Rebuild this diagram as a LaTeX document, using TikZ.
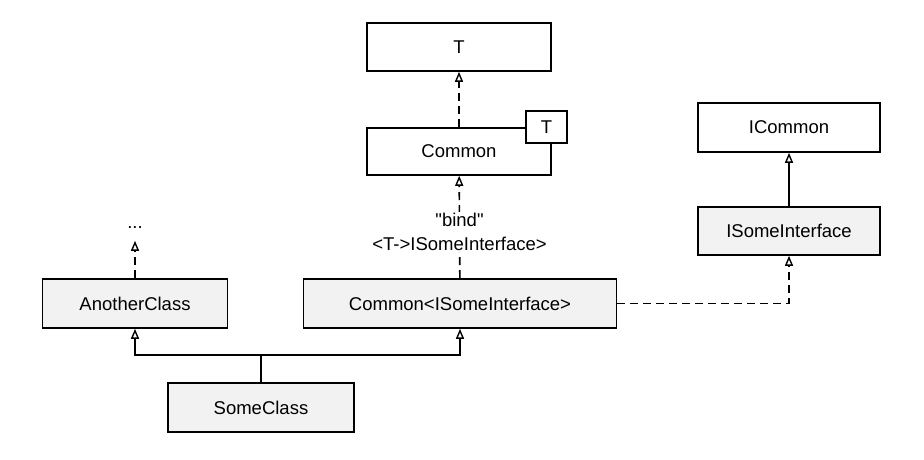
\documentclass[tikz,border=0pt]{standalone}
\usepackage{fontspec}
\setmainfont{Liberation Sans}[Ligatures=TeXOff]
\usepackage{tikz}
\usetikzlibrary{positioning}
\usetikzlibrary{arrows.meta}
\usepackage{xcolor}
\definecolor{boxgray}{HTML}{F2F2F2}

\begin{document}
\begin{tikzpicture}[x=1pt, y=-1pt, line width=1.6pt,
    font=\fontsize{18.5}{24}\selectfont,
    cls/.style={draw, rectangle, fill=white, inner sep=0pt},
    clsgray/.style={cls, fill=boxgray},
    gen/.style={-{Triangle[open, length=10pt, width=8pt, line width=1.4pt]}},
    dep/.style={gen, dash pattern=on 8pt off 5pt}]
    \useasboundingbox (0,0) rectangle (924,460);

    % Template side
    \node[cls, minimum width=184pt, minimum height=48pt] (tbox) at (459,47) {T};
    \node[cls, minimum width=184pt, minimum height=47pt] (common) at (459,151.5) {Common};
    \node[cls, minimum width=41pt, minimum height=32pt] (tparam) at (546.5,127) {T};

    % Interfaces
    \node[cls, minimum width=182pt, minimum height=49pt] (icommon) at (789,127.5) {ICommon};
    \node[clsgray, minimum width=182pt, minimum height=48pt] (isome) at (789,231) {ISomeInterface};

    % Classes
    \node[inner sep=1pt] (dots) at (135,228) {...};
    \node[clsgray, minimum width=185pt, minimum height=49pt] (another) at (135,303.5) {AnotherClass};
    \node[clsgray, minimum width=313pt, minimum height=49pt] (commonisome) at (460,303.5) {Common<ISomeInterface>};
    \node[clsgray, minimum width=186pt, minimum height=49pt] (some) at (261,407.5) {SomeClass};
    \coordinate (fork) at (261,355);

    % Dependencies
    \draw[dep] (common) -- (tbox);
    \draw[dep] (commonisome) -- node[pos=0.45, fill=white, align=center, inner sep=1pt] (bindlbl) {"bind"\\<T->ISomeInterface>} (common);
    \draw[dep] (commonisome.east) -| (isome.south);
    \draw[dep, shorten >=10pt] (another) -- (dots);

    % Generalisation
    \draw[gen] (isome) -- (icommon);
    \draw (some) -- (fork);
    \draw[gen] (fork) -| (another.south);
    \draw[gen] (fork) -| (commonisome.south);
\end{tikzpicture}
\end{document}
